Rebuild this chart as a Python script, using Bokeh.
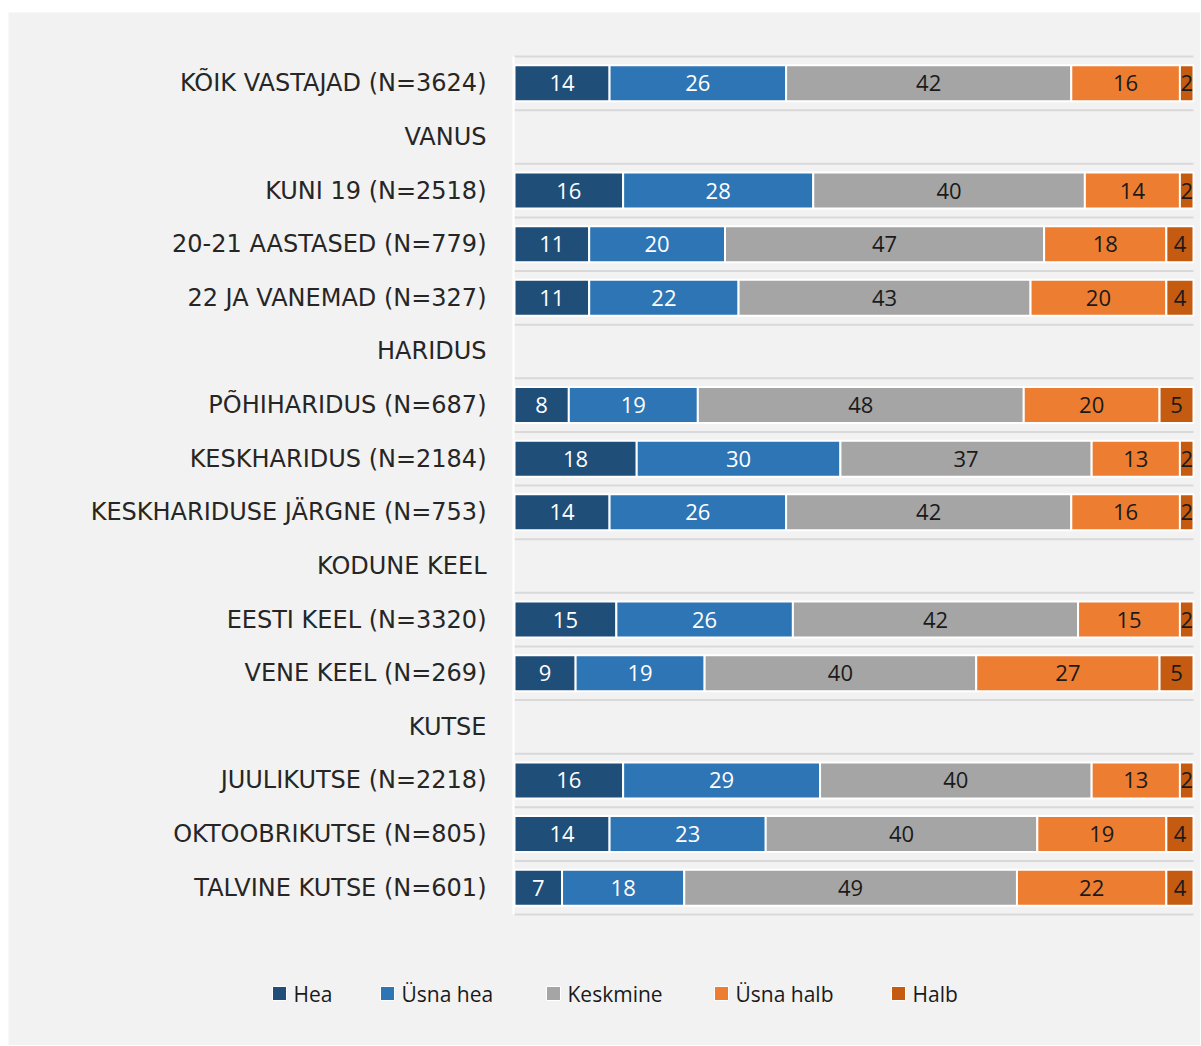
from bokeh.plotting import figure
from bokeh.models import Range1d, ColumnDataSource
from bokeh.core.properties import value
from bokeh.embed import file_html
from bokeh.resources import INLINE

rows = [
    "KÕIK VASTAJAD (N=3624)",
    "VANUS",
    "KUNI 19 (N=2518)",
    "20-21 AASTASED (N=779)",
    "22 JA VANEMAD (N=327)",
    "HARIDUS",
    "PÕHIHARIDUS (N=687)",
    "KESKHARIDUS (N=2184)",
    "KESKHARIDUSE JÄRGNE (N=753)",
    "KODUNE KEEL",
    "EESTI KEEL (N=3320)",
    "VENE KEEL (N=269)",
    "KUTSE",
    "JUULIKUTSE (N=2218)",
    "OKTOOBRIKUTSE (N=805)",
    "TALVINE KUTSE (N=601)",
]
series = ["Hea", "Üsna hea", "Keskmine", "Üsna halb", "Halb"]

hea       = [14, None, 16, 11, 11, None, 8, 18, 14, None, 15, 9, None, 16, 14, 7]
usna_hea  = [26, None, 28, 20, 22, None, 19, 30, 26, None, 26, 19, None, 29, 23, 18]
keskmine  = [42, None, 40, 47, 43, None, 48, 37, 42, None, 42, 40, None, 40, 40, 49]
usna_halb = [16, None, 14, 18, 20, None, 20, 13, 16, None, 15, 27, None, 13, 19, 22]
halb      = [2, None, 2, 4, 4, None, 5, 2, 2, None, 2, 5, None, 2, 4, 4]

colors = ["#1f4e79", "#2e75b6", "#a5a5a5", "#ed7d31", "#c55a11"]
label_colors = ["#ffffff", "#ffffff", "#1a1a1a", "#1a1a1a", "#1a1a1a"]

# ---- layout (pixels) ----
FIG_W, FIG_H = 1192, 1033
FIG_X0, FIG_Y0 = 8, 12            # page position of the figure
BAR_X0, BAR_X1 = 514, 1193        # page x of 0% and 100%
GRID_TOP, ROW_PX = 56, 53.625     # page y of first gridline, row pitch
LEGEND_Y = 993
LEGEND_GLYPH_X = [279, 387, 553, 721, 898]
CAT_LABEL_RIGHT = 486

PX = (BAR_X1 - BAR_X0) / 100.0
x_start = (FIG_X0 - BAR_X0) / PX
x_end = (FIG_X0 + FIG_W - BAR_X0) / PX
row0 = GRID_TOP + ROW_PX / 2
y_top = (FIG_Y0 - row0) / ROW_PX
y_bottom = (FIG_Y0 + FIG_H - row0) / ROW_PX

def px_to_x(px):
    return (px - BAR_X0) / PX

def py_to_y(py):
    return (py - row0) / ROW_PX

values = [hea, usna_hea, keskmine, usna_halb, halb]
idx = [i for i in range(len(rows)) if hea[i] is not None]
data = {"y": idx}
for s, v in zip(series, values):
    data[s] = [v[i] for i in idx]
src = ColumnDataSource(data)

p = figure(width=FIG_W, height=FIG_H,
           x_range=Range1d(x_start, x_end), y_range=Range1d(y_bottom, y_top),
           x_axis_location=None, y_axis_location=None,
           output_backend="svg", toolbar_location=None,
           background_fill_color="#f2f2f2", border_fill_color="#f2f2f2",
           outline_line_color=None, min_border=0,
           min_border_left=0, min_border_right=0, min_border_top=0, min_border_bottom=0)
p.margin = (FIG_Y0, 0, 0, FIG_X0)
p.xgrid.visible = False
p.ygrid.visible = False

# gridlines at row boundaries
n = len(rows)
gy = [i - 0.5 for i in range(n + 1)]
p.segment(x0=[0] * len(gy), x1=[100] * len(gy), y0=gy, y1=gy,
          line_color="#d9d9d9", line_width=2)
# white axis line
p.segment(x0=[px_to_x(BAR_X0 - 1)], x1=[px_to_x(BAR_X0 - 1)], y0=[-0.5], y1=[n - 0.5],
          line_color="white", line_width=2)

p.hbar_stack(series, y="y", height=0.67, color=colors,
             line_color="white", line_width=2, source=src)

# segment labels
left = [0] * len(idx)
for k, (s, v) in enumerate(zip(series, values)):
    vals = [v[i] for i in idx]
    centers = [l + w / 2 for l, w in zip(left, vals)]
    left = [l + w for l, w in zip(left, vals)]
    lsrc = ColumnDataSource(dict(x=centers, y=idx, t=[str(w) for w in vals]))
    p.text(x="x", y="y", text="t", source=lsrc, text_align="center",
           text_baseline="middle", text_font=value("Open Sans"),
           text_font_size="22px", text_color=label_colors[k])

# category labels
csrc = ColumnDataSource(dict(x=[px_to_x(CAT_LABEL_RIGHT)] * n, y=list(range(n)), t=rows))
p.text(x="x", y="y", text="t", source=csrc, text_align="right", text_baseline="middle",
       text_font=value("DejaVu Sans"), text_font_size="24px", text_color="#262626")

# legend (drawn manually so it can sit left of the bar area)
ly = py_to_y(LEGEND_Y)
gx = [px_to_x(g) for g in LEGEND_GLYPH_X]
p.scatter(x=gx, y=[ly] * len(series), marker="square", size=14,
          fill_color=colors, line_color="white", line_width=1)
p.text(x=[px_to_x(g + 14) for g in LEGEND_GLYPH_X], y=[ly] * len(series), text=series,
       text_align="left", text_baseline="middle", text_font=value("Open Sans"),
       text_font_size="21px", text_color="#1a1a1a")

open("out.html", "w").write(file_html(p, INLINE))
